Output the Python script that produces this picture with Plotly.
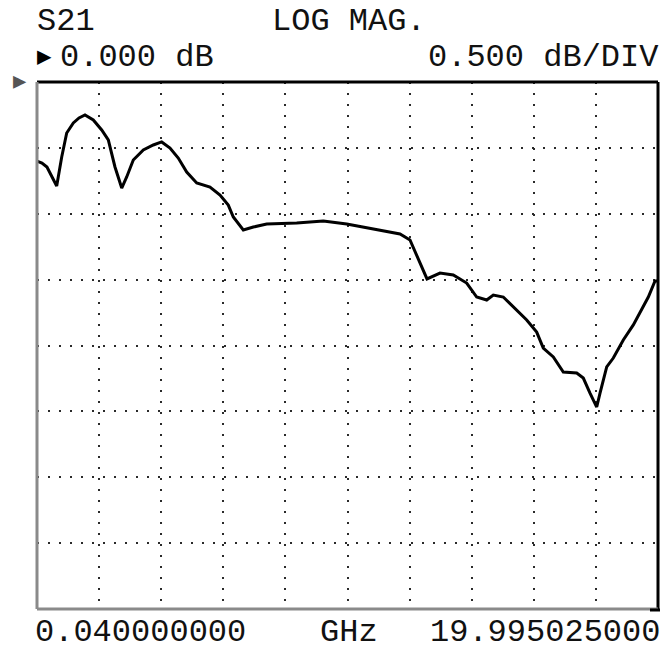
import plotly.graph_objects as go

# Frequency (GHz) and S21 magnitude (dB)
freq_ghz = [0.04, 0.20, 0.36, 0.52, 0.673, 0.834, 0.994, 1.207, 1.39, 1.582,
            1.849, 2.119, 2.331, 2.546, 2.762, 2.922, 3.134, 3.456, 3.777, 4.047,
            4.314, 4.580, 4.850, 5.172, 5.599, 5.921, 6.187, 6.348, 6.669, 6.991,
            7.421, 8.385, 9.240, 9.992, 10.635, 11.383, 11.705, 12.026, 12.241, 12.453,
            12.572, 12.990, 13.417, 13.848, 14.169, 14.491, 14.703, 15.024, 15.346, 15.776,
            16.097, 16.309, 16.631, 16.952, 17.383, 17.595, 17.810, 18.026, 18.132, 18.347,
            18.559, 18.880, 19.202, 19.472, 19.684, 19.899, 19.995]
s21_db = [-0.600, -0.615, -0.645, -0.713, -0.789, -0.569, -0.387, -0.311, -0.273, -0.250,
          -0.288, -0.364, -0.440, -0.645, -0.805, -0.721, -0.592, -0.516, -0.478, -0.455,
          -0.501, -0.577, -0.683, -0.767, -0.797, -0.858, -0.934, -1.025, -1.123, -1.101,
          -1.078, -1.070, -1.055, -1.078, -1.108, -1.139, -1.154, -1.199, -1.321, -1.442,
          -1.495, -1.450, -1.465, -1.526, -1.632, -1.655, -1.617, -1.632, -1.708, -1.806,
          -1.898, -2.019, -2.087, -2.201, -2.209, -2.247, -2.361, -2.467, -2.361, -2.163,
          -2.095, -1.958, -1.844, -1.731, -1.632, -1.510, -1.510]

f_start = 0.04
f_stop = 19.995025
ref_db = 0.0
db_per_div = 0.5
n_ydiv = 8
n_xdiv = 10

top_left = "S21"
top_mid = "LOG MAG."
ref_label = "0.000 dB"
scale_label = "0.500 dB/DIV"
start_label = "0.040000000"
unit_label = "GHz"
stop_label = "19.995025000"

FONT = "Liberation Mono, DejaVu Sans Mono, monospace"
O = 8  # page body margin of the browser
W, H = 668 - O, 648 - O
L, R, T, B = 37 - O, 10, 82 - O, 39
pw, ph = W - L - R, H - T - B


def px(x):
    # window pixel -> paper x
    return (x - O - L) / pw


def py(y):
    # window pixel -> paper y
    return (O + H - B - y) / ph


fig = go.Figure()
fig.add_trace(go.Scatter(x=freq_ghz, y=s21_db, mode="lines",
                         line=dict(color="#000000", width=3), hoverinfo="skip"))

grid = dict(showgrid=True, gridcolor="#2a2a2a", gridwidth=2, griddash="2px,9px",
            showticklabels=False, zeroline=False, showline=False, ticks="")
fig.update_xaxes(range=[f_start, f_stop], tick0=f_start,
                 dtick=(f_stop - f_start) / n_xdiv, **grid)
fig.update_yaxes(range=[ref_db - n_ydiv * db_per_div, ref_db], tick0=ref_db,
                 dtick=db_per_div, **grid)

# frame: top/right black, left/bottom gray
fig.add_shape(type="line", xref="paper", yref="paper", x0=0, x1=1, y0=1, y1=1,
              line=dict(color="#000", width=3))
fig.add_shape(type="line", xref="paper", yref="paper", x0=1, x1=1, y0=0, y1=1,
              line=dict(color="#000", width=3))
fig.add_shape(type="line", xref="paper", yref="paper", x0=0, x1=0, y0=0, y1=1,
              line=dict(color="#8a8a8a", width=3))
fig.add_shape(type="line", xref="paper", yref="paper", x0=0, x1=1, y0=0, y1=0,
              line=dict(color="#8a8a8a", width=3))
fig.add_shape(type="line", xref="paper", yref="paper", x0=px(650), x1=px(661), y0=py(610), y1=py(610),
              line=dict(color="#000", width=3))


def txt(s, x, y, xanchor="left", size=32, color="#111", yref="paper", xref="paper"):
    fig.add_annotation(text=s, x=x, y=y, xref=xref, yref=yref, xanchor=xanchor,
                       yanchor="middle", showarrow=False,
                       font=dict(family=FONT, size=size, color=color))


txt(top_left, px(35), py(21))
txt(top_mid, px(270), py(21))
txt("\u25B6", px(35), py(57), size=24, color="#000")
txt(ref_label, px(58), py(57))
txt(scale_label, px(661), py(57), xanchor="right")
txt(start_label, px(33), py(632))
txt(unit_label, px(318), py(632))
txt(stop_label, px(662), py(632), xanchor="right")
# reference level marker at left edge
txt("\u25B6", px(11), ref_db, size=22, color="#555", yref="y")

fig.update_layout(width=W, height=H, margin=dict(l=L, r=R, t=T, b=B),
                  paper_bgcolor="white", plot_bgcolor="white", showlegend=False)

fig.write_html("out.html")
